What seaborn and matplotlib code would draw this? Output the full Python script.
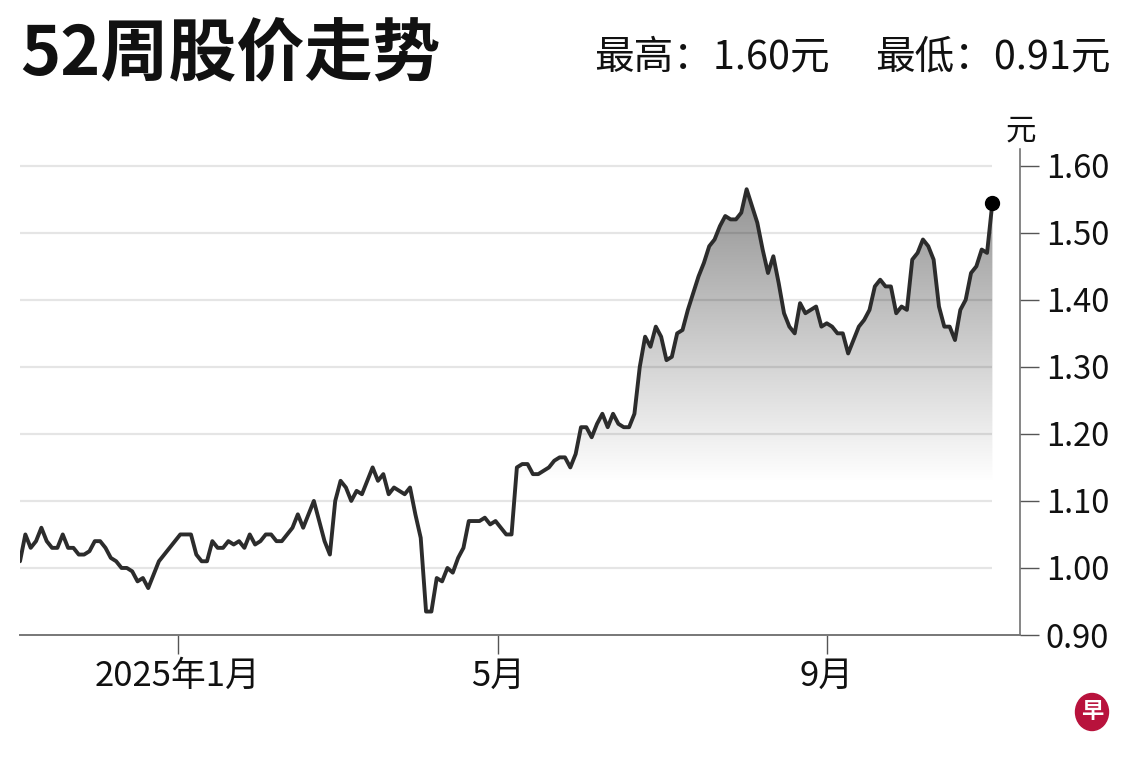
import numpy as np
import pandas as pd
import seaborn as sns
import matplotlib
matplotlib.use("Agg")
import matplotlib.pyplot as plt
import matplotlib.dates as mdates
from matplotlib.colors import LinearSegmentedColormap
from matplotlib.patches import PathPatch, Ellipse

# 52 weeks of closing prices, one reading every 2 days
start_date = "2024-11-03"
prices = [
    1.01, 1.05, 1.03, 1.04, 1.06, 1.04, 1.03, 1.03, 1.05, 1.03,
    1.03, 1.02, 1.02, 1.025, 1.04, 1.04, 1.03, 1.015, 1.01, 1.00,
    1.00, 0.995, 0.98, 0.985, 0.97, 0.99, 1.01, 1.02, 1.03, 1.04,
    1.05, 1.05, 1.05, 1.02, 1.01, 1.01, 1.04, 1.03, 1.03, 1.04,
    1.035, 1.04, 1.03, 1.05, 1.035, 1.04, 1.05, 1.05, 1.04, 1.04,
    1.05, 1.06, 1.08, 1.06, 1.08, 1.10, 1.07, 1.04, 1.02, 1.10,
    1.13, 1.12, 1.10, 1.115, 1.11, 1.13, 1.15, 1.13, 1.14, 1.11,
    1.12, 1.115, 1.11, 1.12, 1.08, 1.045, 0.935, 0.935, 0.985, 0.98,
    1.00, 0.993, 1.015, 1.03, 1.07, 1.07, 1.07, 1.075, 1.065, 1.07,
    1.06, 1.05, 1.05, 1.15, 1.155, 1.155, 1.14, 1.14, 1.145, 1.15,
    1.16, 1.165, 1.165, 1.15, 1.17, 1.21, 1.21, 1.195, 1.215, 1.23,
    1.21, 1.23, 1.215, 1.21, 1.21, 1.23, 1.30, 1.345, 1.33, 1.36,
    1.345, 1.31, 1.315, 1.35, 1.355, 1.385, 1.41, 1.435, 1.455, 1.48,
    1.49, 1.51, 1.525, 1.52, 1.52, 1.53, 1.565, 1.54, 1.515, 1.475,
    1.44, 1.465, 1.425, 1.38, 1.36, 1.35, 1.395, 1.38, 1.385, 1.39,
    1.36, 1.365, 1.36, 1.35, 1.35, 1.32, 1.34, 1.36, 1.37, 1.385,
    1.42, 1.43, 1.42, 1.42, 1.38, 1.39, 1.385, 1.46, 1.47, 1.49,
    1.48, 1.46, 1.39, 1.36, 1.36, 1.34, 1.385, 1.40, 1.44, 1.45,
    1.475, 1.47, 1.545,
]
dates = pd.date_range(start_date, periods=len(prices), freq="2D")

x_tick_dates = pd.to_datetime(["2025-01-01", "2025-05-01", "2025-09-01"])
x_tick_labels = ["2025年1月", "5月", "9月"]
y_ticks = [0.90, 1.00, 1.10, 1.20, 1.30, 1.40, 1.50, 1.60]

title = "52周股价走势"
high_text = "最高：1.60元"
low_text = "最低：0.91元"
unit = "元"

df = pd.DataFrame({"date": dates, "price": prices})

sns.set_style("white")
plt.rcParams["font.family"] = ["Noto Sans CJK SC", "DejaVu Sans"]

fig = plt.figure(figsize=(11.4, 7.63), dpi=100)
ax = fig.add_axes([20 / 1140, 128 / 763, 1000 / 1140, 486 / 763])

# gradient fill under the line
fill = ax.fill_between(df["date"], df["price"], 0.90, facecolor="none", edgecolor="none")
clip = PathPatch(fill.get_paths()[0], transform=ax.transData, facecolor="none", edgecolor="none")
ax.add_patch(clip)
x0 = mdates.date2num(dates[0])
x1 = mdates.date2num(dates[-1])
cmap = LinearSegmentedColormap.from_list("fade", ["#ffffff", "#939393"])
grad = np.linspace(0, 1, 256).reshape(-1, 1)
im = ax.imshow(grad, extent=[x0, x1, 1.13, 1.57], origin="lower", aspect="auto",
               cmap=cmap, zorder=1)
im.set_clip_path(clip)

# grid lines stop at the last data point
ax.hlines(y_ticks[1:], dates[0], dates[-1], colors="black", alpha=0.1, linewidth=1.6, zorder=2)

sns.lineplot(data=df, x="date", y="price", ax=ax, color="#2c2c2c", linewidth=2.8,
             solid_joinstyle="round", solid_capstyle="round", zorder=3)
ax.plot(dates[-1], prices[-1], "o", color="black", markersize=10, zorder=4)

ax.set_xlim(dates[0], pd.Timestamp("2025-11-12 08:00"))
ax.set_ylim(0.90, 1.625)
ax.set_xlabel("")
ax.set_ylabel("")

ax.set_xticks(x_tick_dates)
ax.set_xticklabels(x_tick_labels)
ax.yaxis.tick_right()
ax.set_yticks(y_ticks)
ax.set_yticklabels([f"{v:.2f}" for v in y_ticks])

ax.tick_params(axis="x", direction="out", length=14, width=1, color="#555555",
               labelsize=25, pad=3, labelcolor="#111111", bottom=True)
ax.tick_params(axis="y", direction="out", length=13.5, width=1, color="#555555",
               labelsize=23.5, pad=5, labelcolor="#111111", right=True, left=False)

for side in ["top", "left"]:
    ax.spines[side].set_visible(False)
ax.spines["bottom"].set_color("#777777")
ax.spines["bottom"].set_linewidth(1.4)
ax.spines["right"].set_color("#666666")
ax.spines["right"].set_linewidth(1.1)

# header texts
fig.text(20 / 1140, 1 - 56 / 763, title, fontsize=49, fontweight="bold",
         ha="left", va="center", color="#111111")
fig.text(594 / 1140, 1 - 57 / 763, high_text, fontsize=28.5, ha="left", va="center", color="#111111")
fig.text(1111 / 1140, 1 - 57 / 763, low_text, fontsize=28.5, ha="right", va="center", color="#111111")
fig.text(1021 / 1140, 1 - 131 / 763, unit, fontsize=22, ha="center", va="center", color="#111111")

# logo
fig.add_artist(Ellipse((1092 / 1140, 1 - 712 / 763), 33 / 1140, 37 / 763,
                       transform=fig.transFigure, color="#b8123c"))
fig.text(1092 / 1140, 1 - 712 / 763, "早", fontsize=16, fontweight="bold",
         ha="center", va="center", color="white")

fig.savefig("out.png", dpi=100)
